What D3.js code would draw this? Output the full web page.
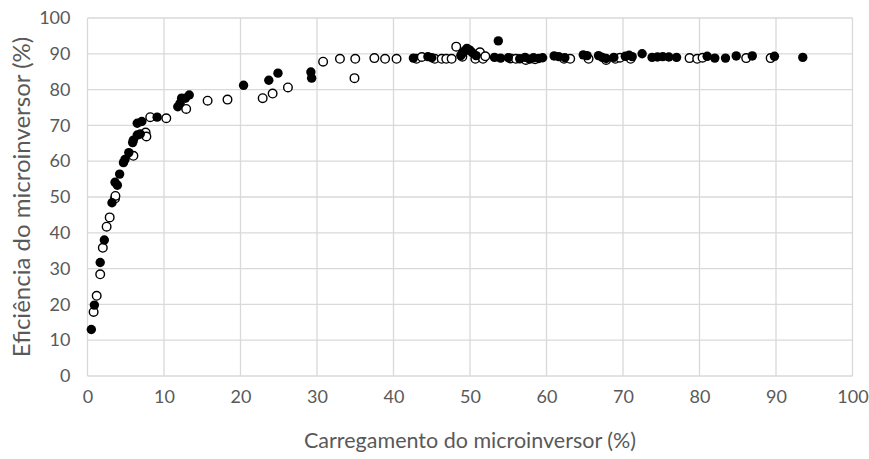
<!DOCTYPE html>
<html>
<head>
<meta charset="utf-8">
<script src="https://cdn.jsdelivr.net/npm/d3@7/dist/d3.min.js"></script>
<style>
  html, body { margin: 0; padding: 0; background: #fff; }
  svg { display: block; }
  text { font-family: Lato, "Open Sans", sans-serif; fill: #595959; }
</style>
</head>
<body>
<svg id="chart" width="869" height="459"></svg>
<script>
// Eficiência vs. carregamento do microinversor — dois conjuntos de medições
const filledLoad = [0.5, 0.9, 1.66, 2.2, 3.2, 3.6, 3.9, 4.2, 4.7, 4.9, 5.4, 5.9, 6.0, 6.5, 6.9, 6.5, 7.1,
  9.1, 11.8, 12.1, 12.3, 12.8, 13.3, 20.4, 23.7, 24.9, 29.2, 29.3,
  42.6, 44.5, 45.0, 48.8, 49.0, 49.3, 49.6, 50.0, 50.3, 50.8, 53.7, 53.2, 54.0, 55.0, 56.5, 57.2,
  57.8, 58.3, 59.0, 59.5, 61.0, 61.6, 62.4, 64.8, 65.3, 66.8, 67.3, 67.8, 68.8, 70.3, 70.8, 71.2,
  72.5, 73.8, 74.5, 75.2, 76.0, 77.0, 81.0, 82.0, 83.4, 84.8, 86.9, 89.8, 93.5];
const filledEff = [13.0, 19.8, 31.7, 38.0, 48.4, 54.1, 53.3, 56.4, 59.6, 60.5, 62.4, 65.2, 65.9, 67.3, 67.6, 70.6, 71.1,
  72.3, 75.2, 76.2, 77.6, 77.6, 78.5, 81.2, 82.6, 84.6, 84.9, 83.2,
  88.8, 89.2, 88.9, 89.5, 90.2, 90.8, 91.5, 91.0, 90.3, 89.5, 93.6, 89.0, 88.8, 88.9, 88.6, 89.0,
  88.5, 88.9, 88.7, 88.9, 89.4, 89.2, 88.9, 89.7, 89.5, 89.5, 89.0, 88.7, 89.0, 89.3, 89.6, 89.2,
  90.0, 89.0, 89.1, 89.2, 89.1, 89.0, 89.3, 88.8, 88.8, 89.4, 89.4, 89.3, 89.0];

const openLoad = [0.8, 1.2, 1.66, 2.0, 2.5, 2.9, 3.6, 3.65, 6.0, 7.6, 7.7, 8.2, 10.3, 12.9, 15.7, 18.3,
  22.9, 24.2, 26.2, 30.8, 33.0, 35.0, 34.9, 37.5, 38.9, 40.4, 43.0, 43.7, 45.4, 46.3, 46.9, 47.6,
  48.2, 49.0, 51.3, 50.7, 51.7, 52.0, 55.3, 56.0, 57.3, 58.5, 62.3, 63.1, 65.5, 67.8, 69.0, 69.6,
  71.0, 78.7, 79.7, 80.4, 86.1, 89.3];
const openEff = [17.9, 22.4, 28.4, 35.8, 41.7, 44.3, 49.6, 50.3, 61.5, 68.0, 66.9, 72.3, 72.0, 74.6, 76.9, 77.2,
  77.6, 78.9, 80.6, 87.8, 88.6, 88.6, 83.2, 88.8, 88.6, 88.6, 88.6, 89.1, 88.6, 88.6, 88.6, 88.6,
  92.0, 89.2, 90.4, 88.6, 88.6, 89.3, 88.7, 88.6, 88.3, 88.5, 88.6, 88.6, 88.6, 88.3, 88.6, 88.9,
  88.6, 88.8, 88.6, 88.9, 88.8, 88.8];

const xTicks = [0, 10, 20, 30, 40, 50, 60, 70, 80, 90, 100];
const yTicks = [0, 10, 20, 30, 40, 50, 60, 70, 80, 90, 100];
const xTitle = "Carregamento do microinversor (%)";
const yTitle = "Eficiência do microinversor (%)";

const svg = d3.select("#chart");
const margin = { left: 87.5, right: 869 - 852.5, top: 18, bottom: 459 - 376 };
const W = 869 - margin.left - margin.right;
const H = 459 - margin.top - margin.bottom;

const x = d3.scaleLinear().domain([0, 100]).range([margin.left, margin.left + W]);
const y = d3.scaleLinear().domain([0, 100]).range([margin.top + H, margin.top]);

// gridlines (including plot edges)
const grid = svg.append("g").attr("stroke", "#d9d9d9").attr("stroke-width", 1.3);
grid.selectAll("line.h").data(yTicks).join("line")
  .attr("x1", x(0)).attr("x2", x(100))
  .attr("y1", d => y(d)).attr("y2", d => y(d));
grid.selectAll("line.v").data(xTicks).join("line")
  .attr("y1", y(0)).attr("y2", y(100))
  .attr("x1", d => x(d)).attr("x2", d => x(d));

// axes with labels only
const xAxis = d3.axisBottom(x).tickValues(xTicks).tickSize(0).tickPadding(14);
const yAxis = d3.axisLeft(y).tickValues(yTicks).tickSize(0).tickPadding(17);

const gx = svg.append("g").attr("transform", `translate(0,${y(0)})`).call(xAxis);
const gy = svg.append("g").attr("transform", `translate(${x(0)},0)`).call(yAxis);
[gx, gy].forEach(g => {
  g.select(".domain").remove();
  g.selectAll("text").style("font-size", "18px").style("fill", "#595959")
    .style("font-family", "Lato, 'Open Sans', sans-serif");
});

// open-circle series
svg.append("g").selectAll("circle").data(d3.zip(openLoad, openEff)).join("circle")
  .attr("cx", d => x(d[0])).attr("cy", d => y(d[1])).attr("r", 4.3)
  .attr("fill", "#fff").attr("stroke", "#000").attr("stroke-width", 1.4);

// filled series
svg.append("g").selectAll("circle").data(d3.zip(filledLoad, filledEff)).join("circle")
  .attr("cx", d => x(d[0])).attr("cy", d => y(d[1])).attr("r", 4.7)
  .attr("fill", "#000");

// axis titles
svg.append("text").attr("x", (x(0) + x(100)) / 2).attr("y", 448)
  .attr("text-anchor", "middle").style("font-size", "21.5px").text(xTitle);
svg.append("text")
  .attr("transform", `translate(30,${(y(0) + y(100)) / 2}) rotate(-90)`)
  .attr("text-anchor", "middle").style("font-size", "24px").text(yTitle);
</script>
</body>
</html>
